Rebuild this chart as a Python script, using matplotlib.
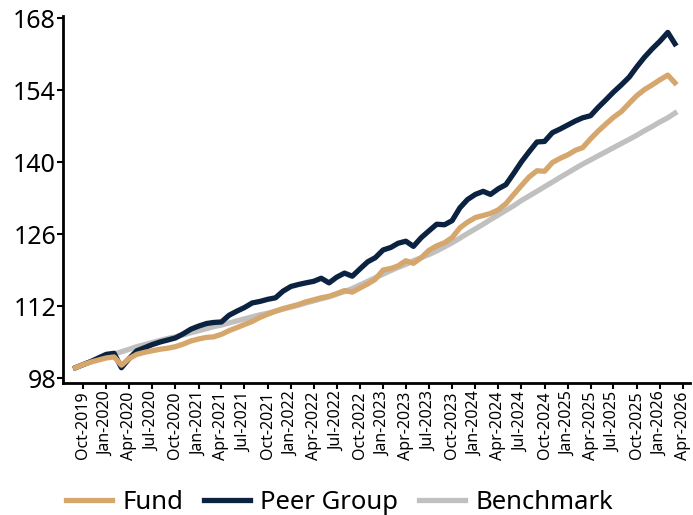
import pandas as pd
import numpy as np
import matplotlib
matplotlib.use('Agg')
import matplotlib.pyplot as plt
import matplotlib.dates as mdates

months = pd.date_range('2019-09-01', '2026-03-01', freq='MS')

fund = [100.0, 100.6, 101.1, 101.5, 101.9, 102.1, 100.5, 101.8, 102.6, 103.0,
        103.3, 103.6, 103.8, 104.1, 104.6, 105.2, 105.6, 105.9, 106.0, 106.5,
        107.2, 107.8, 108.4, 109.0, 109.8, 110.4, 111.0, 111.5, 111.9, 112.3,
        112.8, 113.2, 113.6, 113.9, 114.4, 115.0, 114.7, 115.5, 116.3, 117.2,
        119.0, 119.3, 119.8, 120.8, 120.3, 121.4, 122.8, 123.7, 124.3, 125.3,
        127.2, 128.3, 129.2, 129.6, 130.0, 130.7, 131.9, 133.7, 135.4, 137.1,
        138.3, 138.2, 139.9, 140.7, 141.4, 142.3, 142.8, 144.5, 146.0, 147.4,
        148.7, 149.8, 151.4, 152.9, 154.1, 155.0, 156.0, 156.9, 155.4]

peer = [100.0, 100.6, 101.2, 101.9, 102.6, 102.8, 100.0, 101.8, 103.3, 103.9,
        104.5, 105.0, 105.4, 105.8, 106.6, 107.5, 108.1, 108.6, 108.8, 108.9,
        110.2, 111.0, 111.7, 112.6, 112.9, 113.3, 113.6, 114.9, 115.8, 116.2,
        116.5, 116.8, 117.4, 116.5, 117.6, 118.4, 117.8, 119.2, 120.6, 121.4,
        122.9, 123.4, 124.2, 124.6, 123.6, 125.3, 126.6, 127.9, 127.8, 128.6,
        131.1, 132.7, 133.7, 134.3, 133.7, 134.8, 135.6, 137.8, 140.0, 142.0,
        143.9, 144.0, 145.7, 146.4, 147.2, 148.0, 148.6, 149.0, 150.6, 152.1,
        153.6, 155.0, 156.5, 158.5, 160.4, 162.0, 163.5, 165.2, 163.0]

bench = [100.0, 100.6, 101.2, 101.7, 102.2, 102.7, 103.1, 103.6, 104.1, 104.5,
         104.9, 105.3, 105.7, 106.0, 106.4, 106.8, 107.2, 107.6, 108.0, 108.3,
         108.7, 109.1, 109.5, 109.9, 110.3, 110.6, 111.0, 111.4, 111.8, 112.2,
         112.6, 113.0, 113.4, 113.8, 114.3, 114.8, 115.4, 116.1, 116.8, 117.5,
         118.2, 118.9, 119.5, 120.1, 120.8, 121.4, 122.0, 122.7, 123.5, 124.3,
         125.2, 126.1, 127.0, 127.9, 128.8, 129.7, 130.6, 131.5, 132.5, 133.4,
         134.3, 135.2, 136.1, 137.0, 137.9, 138.8, 139.6, 140.4, 141.2, 142.0,
         142.8, 143.6, 144.4, 145.2, 146.1, 146.9, 147.8, 148.6, 149.5]

yticks = [98, 112, 126, 140, 154, 168]

plt.rcParams['font.family'] = ['Noto Sans', 'DejaVu Sans']

fig = plt.figure(figsize=(6.93, 5.15), dpi=100)
ax = fig.add_axes([0.091, 0.256, 0.904, 0.713])

ax.plot(months, bench, color='#C0C0C0', lw=3.8, label='Benchmark', zorder=2)
ax.plot(months, peer, color='#0B2241', lw=3.8, label='Peer Group', zorder=3)
ax.plot(months, fund, color='#D6A76C', lw=3.8, label='Fund', zorder=4)

ax.set_ylim(97.0, 168.4)
ax.set_yticks(yticks)
ax.set_xlim(pd.Timestamp('2019-07-14'), pd.Timestamp('2026-04-28'))
ax.xaxis.set_major_locator(mdates.MonthLocator(bymonth=[1, 4, 7, 10]))
ax.xaxis.set_major_formatter(mdates.DateFormatter('%b-%Y'))
ax.tick_params(axis='x', labelrotation=90, labelsize=11.5, length=4, width=1.5, pad=2)
ax.tick_params(axis='y', labelsize=18, length=4, width=1.5, pad=1)

for s in ['top', 'right']:
    ax.spines[s].set_visible(False)
for s in ['left', 'bottom']:
    ax.spines[s].set_linewidth(2)

h, l = ax.get_legend_handles_labels()
order = [2, 1, 0]
fig.legend([h[i] for i in order], [l[i] for i in order], loc='lower center',
           bbox_to_anchor=(0.49, -0.045), ncol=3, frameon=False, fontsize=18.5,
           handlelength=1.8, handletextpad=0.4, columnspacing=0.8)

fig.savefig('out.png', dpi=100)
